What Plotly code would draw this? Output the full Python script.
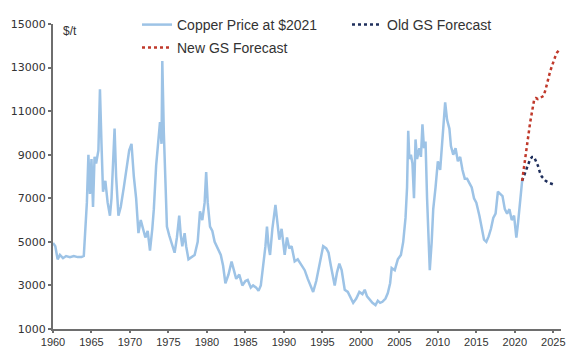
import plotly.graph_objects as go

# Copper price in 2021 dollars ($/t)
copper_years = [
    1960.0, 1960.3, 1960.6, 1960.9, 1961.3, 1961.7, 1962.2, 1962.7, 1963.2, 1963.7,
    1964.0, 1964.2, 1964.4, 1964.6, 1964.8, 1965.0, 1965.2, 1965.4, 1965.6, 1965.9,
    1966.1, 1966.3, 1966.5, 1966.8, 1967.1, 1967.4, 1967.6, 1968.0, 1968.2, 1968.5,
    1968.8, 1969.2, 1969.6, 1969.9, 1970.2, 1970.5, 1970.8, 1971.1, 1971.4, 1971.7,
    1972.0, 1972.3, 1972.6, 1972.9, 1973.1, 1973.4, 1973.7, 1973.9, 1974.1, 1974.2,
    1974.4, 1974.6, 1974.8, 1975.1, 1975.4, 1975.8, 1976.1, 1976.4, 1976.6, 1976.8,
    1977.1, 1977.3, 1977.6, 1978.0, 1978.4, 1978.8, 1979.1, 1979.4, 1979.7, 1979.9,
    1980.1, 1980.4, 1980.7, 1981.0, 1981.4, 1981.8, 1982.1, 1982.4, 1982.8, 1983.2,
    1983.5, 1983.8, 1984.2, 1984.6, 1985.0, 1985.3, 1985.7, 1986.0, 1986.4, 1986.7,
    1987.0, 1987.3, 1987.6, 1987.8, 1988.0, 1988.2, 1988.5, 1988.9, 1989.1, 1989.4,
    1989.7, 1990.1, 1990.4, 1990.7, 1991.0, 1991.4, 1991.8, 1992.3, 1992.7, 1993.1,
    1993.5, 1993.8, 1994.2, 1994.5, 1994.8, 1995.1, 1995.5, 1995.8, 1996.1, 1996.4,
    1996.6, 1996.9, 1997.2, 1997.5, 1997.9, 1998.3, 1998.7, 1999.0, 1999.4, 1999.8,
    2000.2, 2000.5, 2000.8, 2001.1, 2001.5, 2001.9, 2002.2, 2002.5, 2002.8, 2003.2,
    2003.5, 2003.8, 2004.0, 2004.4, 2004.8, 2005.2, 2005.5, 2005.8, 2006.0, 2006.15,
    2006.3, 2006.5, 2006.7, 2006.9, 2007.1, 2007.3, 2007.6, 2007.8, 2008.0, 2008.2,
    2008.4, 2008.6, 2008.8, 2008.95, 2009.2, 2009.4, 2009.7, 2010.0, 2010.3, 2010.5,
    2010.8, 2010.95, 2011.2, 2011.5, 2011.7, 2012.0, 2012.3, 2012.6, 2012.9, 2013.2,
    2013.5, 2013.8, 2014.1, 2014.4, 2014.7, 2015.0, 2015.4, 2015.7, 2016.0, 2016.3,
    2016.6, 2016.9, 2017.2, 2017.5, 2017.8, 2018.1, 2018.4, 2018.7, 2019.0, 2019.3,
    2019.6, 2019.9, 2020.2, 2020.4, 2020.6, 2020.8, 2020.95,
]
copper_values = [
    4950, 4800, 4200, 4400, 4250, 4350, 4300, 4350, 4300, 4300,
    4350, 5700, 6800, 9000, 7200, 8800, 6600, 8900, 8600, 9200,
    12000, 9500, 7300, 7800, 6800, 6200, 7000, 10200, 8000, 6200,
    6600, 7500, 8600, 9200, 9500, 8000, 7000, 5400, 6000, 5600,
    5200, 5500, 4600, 5600, 6500, 8500, 9800, 10500, 9500, 13300,
    10000, 8000, 5700, 5300, 4900, 4500, 5200, 6200, 5300, 4800,
    5400, 4800, 4200, 4300, 4400, 5000, 6400, 6000, 6800, 8200,
    6800, 5700, 5500, 5000, 4700, 4400, 3900, 3100, 3500, 4100,
    3700, 3300, 3500, 3000, 3200, 3250, 2900, 3000, 2900, 2750,
    3000, 3800, 4800, 5700, 4800, 4400, 5600, 6700, 6000, 5100,
    5600, 4400, 5200, 4700, 4800, 4100, 4200, 3900, 3700, 3300,
    3000, 2700, 3200, 3700, 4300, 4800, 4700, 4500, 3900, 3300,
    3000, 3600, 4000, 3700, 2800, 2700, 2400, 2200, 2400, 2700,
    2600, 2800, 2500, 2350, 2200, 2100, 2300, 2200, 2250, 2400,
    2650, 3100, 3800, 3700, 4200, 4400, 5000, 6100, 7500, 10100,
    8800, 9000, 8600, 7000, 9700, 8800, 9300, 8900, 10400, 9300,
    9600, 7000, 4500, 3700, 5000, 6500, 7500, 8700, 8300, 9200,
    10500, 11400, 10600, 10200, 9400, 9000, 9300, 8700, 8900, 8300,
    7900, 7900, 7700, 7500, 7000, 6800, 6200, 5600, 5100, 5000,
    5250, 5600, 6100, 6300, 7300, 7200, 7100, 6500, 6300, 6500,
    6000, 6200, 5200, 5800, 6600, 7400, 7800,
]

new_gs_years = [2020.95, 2021.25, 2021.5, 2021.75, 2022.0, 2022.25, 2022.5, 2022.75,
                2023.0, 2023.25, 2023.5, 2023.75, 2024.0, 2024.25, 2024.5, 2024.75,
                2025.0, 2025.25, 2025.5, 2025.75]
new_gs_values = [7800, 8600, 9300, 9900, 10500, 11000, 11500, 11600,
                 11550, 11600, 11650, 11700, 12000, 12400, 12700, 13000,
                 13300, 13500, 13700, 13800]

old_gs_years = [2020.95, 2021.25, 2021.5, 2021.75, 2022.0, 2022.25, 2022.5, 2022.75,
                2023.0, 2023.25, 2023.5, 2023.75, 2024.0, 2024.5, 2025.0, 2025.3]
old_gs_values = [7800, 8100, 8300, 8500, 8800, 8900, 8900, 8700,
                 8500, 8200, 8000, 7900, 7800, 7700, 7650, 7600]

x_ticks = [1960, 1965, 1970, 1975, 1980, 1985, 1990, 1995, 2000, 2005, 2010, 2015, 2020, 2025]
y_ticks = [1000, 3000, 5000, 7000, 9000, 11000, 13000, 15000]

# page is 585x363; the figure sits at an 8px body margin offset
OFF = 8
W, H = 585 - 2 * OFF, 363 - 2 * OFF
PL, PR, PT, PB = 53, 561, 24, 329          # target plot box in page pixels
ML, MT = PL - OFF, PT - OFF
MR, MB = W - (PR - OFF), H - (PB - OFF)
PW, PH = PR - PL, PB - PT


def px_x(px):
    return (px - PL) / PW


def px_y(py):
    return (PB - py) / PH


fig = go.Figure()
fig.add_trace(go.Scatter(x=copper_years, y=copper_values, mode="lines",
                         name="Copper Price at $2021", showlegend=True,
                         line=dict(color="#9DC3E6", width=2.5), legend="legend"))
fig.add_trace(go.Scatter(x=old_gs_years, y=old_gs_values, mode="lines",
                         name="Old GS Forecast", showlegend=True,
                         line=dict(color="#1F2F5C", width=2.5, dash="dot"), legend="legend2"))
fig.add_trace(go.Scatter(x=new_gs_years, y=new_gs_values, mode="lines",
                         name="New GS Forecast", showlegend=True,
                         line=dict(color="#C0392B", width=2.5, dash="dot"), legend="legend3"))

leg_common = dict(xanchor="left", yanchor="middle", visible=True,
                  bgcolor="rgba(0,0,0,0)",
                  font=dict(family="Liberation Sans, Arial", size=14, color="#333333"))
fig.update_layout(
    width=W, height=H, showlegend=True,
    margin=dict(l=ML, r=MR, t=MT, b=MB, autoexpand=False),
    paper_bgcolor="white", plot_bgcolor="white",
    font=dict(family="Liberation Sans, Arial", color="#333333"),
    legend=dict(x=px_x(137), y=px_y(25), **leg_common),
    legend2=dict(x=px_x(347), y=px_y(25), **leg_common),
    legend3=dict(x=px_x(137), y=px_y(48), **leg_common),
    xaxis=dict(range=[1960, 2026], tickvals=x_ticks, ticktext=[str(v) for v in x_ticks],
               showgrid=False, zeroline=False,
               showline=True, linecolor="#6E6E6E", linewidth=2,
               ticks="outside", ticklen=2, tickcolor="#6E6E6E", tickwidth=1.5,
               tickfont=dict(family="Liberation Sans, Arial", size=11, color="#333333")),
    yaxis=dict(range=[1000, 15000], tickvals=y_ticks, ticktext=[str(v) for v in y_ticks],
               showgrid=False, zeroline=False,
               showline=True, linecolor="#6E6E6E", linewidth=2,
               ticks="outside", ticklen=3, tickcolor="#6E6E6E", tickwidth=1.5,
               tickfont=dict(family="DejaVu Sans", size=11, color="#333333")),
    annotations=[dict(text="$/t", xref="paper", yref="paper", x=px_x(61), y=px_y(22),
                      xanchor="left", yanchor="top", showarrow=False,
                      font=dict(family="Liberation Sans, Arial", size=12, color="#333333"))],
)

fig.write_html("out.html")
